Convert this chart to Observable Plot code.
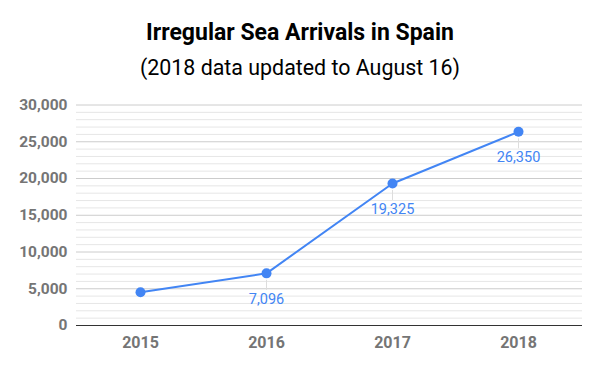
<!DOCTYPE html>
<html><head><meta charset="utf-8">
<script src="https://cdn.jsdelivr.net/npm/d3@7"></script>
<script src="https://cdn.jsdelivr.net/npm/@observablehq/plot@0.6"></script>
<style>
body{margin:0;background:#fff;font-family:Roboto,sans-serif;width:600px;height:371px;overflow:hidden}
#hdr{position:relative;height:88px}
#t{position:absolute;top:19.8px;left:0;width:600px;text-align:center;font-size:23px;font-weight:bold;color:#000;line-height:26px}
#s{position:absolute;top:54.7px;left:0;width:600px;text-align:center;font-size:21.4px;color:#000;line-height:26px}
</style></head><body>
<div id="hdr"><div id="t">Irregular Sea Arrivals in Spain</div><div id="s">(2018 data updated to August 16)</div></div>
<div id="chart"></div>
<script>
const years = ["2015","2016","2017","2018"];
const arrivals = [4530, 7096, 19325, 26350];
const showLabel = [false, true, true, true];
const majorTicks = [0,5000,10000,15000,20000,25000,30000];
const minorTicks = d3.range(0, 30001, 1000).filter(v => v % 5000 !== 0);

const data = years.map((y,i)=>({year:y, value:arrivals[i], label:showLabel[i]}));
const labeled = data.filter(d=>d.label);
const blue = "#4285f4";

const chart = Plot.plot({
  width:600, height:283,
  marginLeft:76, marginRight:18, marginTop:16.5, marginBottom:46,
  style:{fontFamily:"Roboto, sans-serif", background:"#fff"},
  x:{type:"point", domain:years, padding:0.5, label:null},
  y:{domain:[0,30000], label:null},
  marks:[
    Plot.ruleY(minorTicks,{stroke:"#e6e6e6", strokeWidth:1}),
    Plot.ruleY(majorTicks.slice(1),{stroke:"#cccccc", strokeWidth:1}),
    Plot.axisY(majorTicks,{tickSize:0, tickPadding:9, tickFormat:d3.format(","), fontSize:15.5, fontWeight:"bold", fill:"#757575", label:null}),
    Plot.axisX({tickSize:0, tickPadding:11, fontSize:16, fontWeight:"bold", fill:"#757575", label:null}),
    Plot.ruleY([0],{stroke:"#333", strokeWidth:1.2}),
    Plot.ruleX(labeled,{x:"year", y1:"value", y2:"value", insetTop:7, insetBottom:-17, stroke:"#dddddd", strokeWidth:1}),
    Plot.line(data,{x:"year", y:"value", stroke:blue, strokeWidth:2}),
    Plot.dot(data,{x:"year", y:"value", r:5, fill:blue, stroke:"none"}),
    Plot.text(labeled,{x:"year", y:"value", text:d=>d3.format(",")(d.value), dy:26, fill:blue, fontSize:14.5})
  ]
});
document.getElementById("chart").appendChild(chart);
</script>
</body></html>
